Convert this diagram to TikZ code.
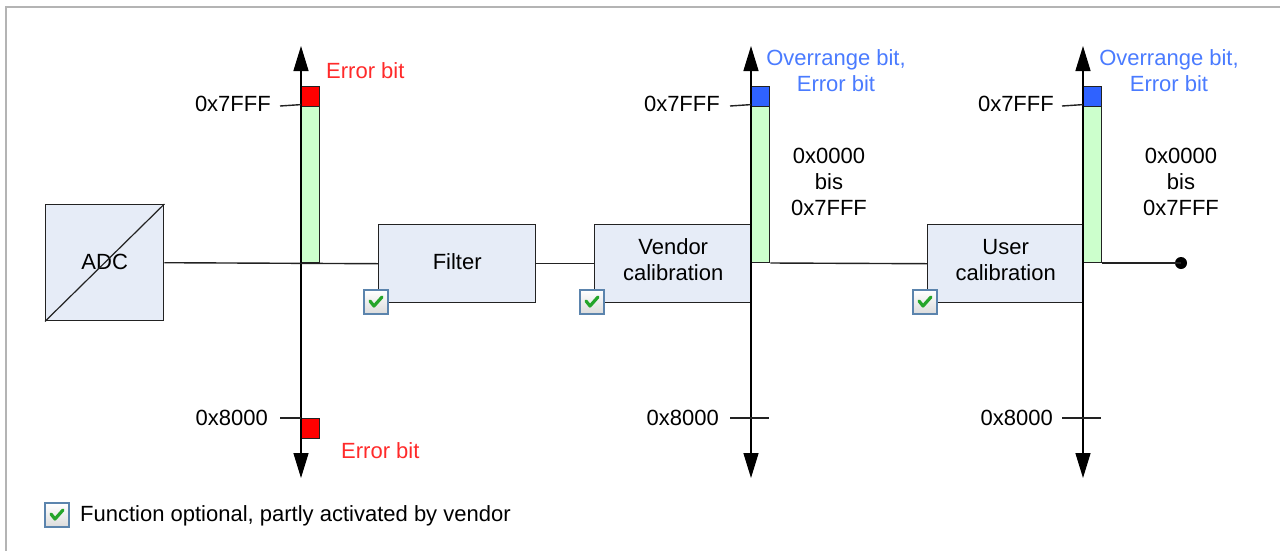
\documentclass[tikz,border=0pt]{standalone}
\usepackage{fontspec}
\setmainfont{Liberation Sans}
\usetikzlibrary{arrows.meta}
\definecolor{boxfill}{HTML}{E6ECF7}
\definecolor{barfill}{HTML}{CCFFCC}
\definecolor{errred}{HTML}{FF0000}
\definecolor{ovblue}{HTML}{2F62FF}
\definecolor{txtred}{HTML}{FF2a2a}
\definecolor{txtblue}{HTML}{4A7BFF}
\definecolor{framegray}{HTML}{B4B4B4}
\definecolor{chkborder}{HTML}{5B84AD}
\definecolor{chkgreen}{HTML}{25A52A}
\definecolor{linegray}{HTML}{222222}
\tikzset{
  txt/.style={font=\fontsize{22}{26}\selectfont, inner sep=0pt, align=center},
  block/.style={draw=linegray, line width=1.4pt, fill=boxfill, inner sep=0pt, anchor=north west, txt},
  bar/.style={draw=linegray, line width=1.4pt, fill=barfill, inner sep=0pt, minimum width=18, anchor=south west},
  errbox/.style={draw=linegray, line width=1.4pt, fill=errred, inner sep=0pt, minimum width=18, minimum height=20, anchor=north west},
  ovbox/.style={draw=linegray, line width=1.4pt, fill=ovblue, inner sep=0pt, minimum width=18, minimum height=20, anchor=north west},
  wire/.style={draw=linegray, line width=1.4pt},
  axis/.style={draw=black, line width=1.4pt, {Triangle[length=25pt,width=15pt]}-{Triangle[length=25pt,width=15pt]}},
  chk/.style={draw=chkborder, line width=1.4pt, top color=white, bottom color=black!14, minimum size=24, inner sep=0pt},
  checkmark/.style={draw=chkgreen, line width=3.2pt, line cap=round, line join=round},
}
\newcommand{\chkmark}[1]{\draw[checkmark] ([shift={(-6,-1)}]#1.center) -- ([shift={(-2,4)}]#1.center) -- ([shift={(6,-5)}]#1.center);}
\begin{document}
\begin{tikzpicture}[x=1pt,y=-1pt]
\useasboundingbox (0,0) rectangle (1280,550);
% frame
\draw[framegray, line width=2pt] (1285,7) -- (6,7) -- (6,556);

% blocks
\node[block, minimum width=118, minimum height=116] (adc) at (45,204) {};
\node[txt] (adct) at ([yshift=1pt]adc.center) {ADC};
\draw[linegray, line width=1.2pt] (adc.south west) -- (adc.north east);
\node[block, minimum width=157, minimum height=78] (filt) at (378,224) {};
\node[txt] (filtt) at ([yshift=2pt]filt.center) {Filter};
\node[block, minimum width=157, minimum height=78] (vend) at (594,224) {};
\node[txt] (vendt) at ([yshift=4pt]vend.center) {Vendor\\calibration};
\node[block, minimum width=156, minimum height=78] (user) at (927,224) {};
\node[txt] (usert) at ([yshift=4pt]user.center) {User\\calibration};

% axes
\coordinate (a1t) at (301,46); \coordinate (a1b) at (301,478);
\coordinate (a2t) at (751,46); \coordinate (a2b) at (751,478);
\coordinate (a3t) at (1083,46); \coordinate (a3b) at (1083,478);

% bars
\node[bar, minimum height=157] (bar1) at (301,263) {};
\node[errbox] (e1t) at (301,86) {};
\node[errbox] (e1b) at (301,418) {};
\node[bar, minimum height=157] (bar2) at (751,263) {};
\node[ovbox] (o2) at (751,86) {};
\node[bar, minimum height=157] (bar3) at (1083,263) {};
\node[ovbox] (o3) at (1083,86) {};

\draw[axis] (a1t) -- (a1b);
\draw[axis] (a2t) -- (a2b);
\draw[axis] (a3t) -- (a3b);

% wires
\node[circle, fill=black, inner sep=0pt, minimum size=12] (dot) at (1181,263) {};
\draw[wire] (adc.east) -- (filt.west);
\draw[wire] (filt.east) -- (vend.west);
\draw[wire] (bar2.south east) -- (user.west);
\draw[wire] (bar3.south east) -- (dot.center);

% ticks
\coordinate (t1a) at (280,106); \coordinate (t1b) at (280,418);
\coordinate (t2a) at (730,106); \coordinate (t2b) at (730,418); \coordinate (t2c) at (769,418);
\coordinate (t3a) at (1062,106); \coordinate (t3b) at (1062,418); \coordinate (t3c) at (1101,418);
\draw[wire] (t1a) -- (bar1.north west);
\draw[wire] (t1b) -- (e1b.north west);
\draw[wire] (t2a) -- (bar2.north west);
\draw[wire] (t2b) -- (t2c);
\draw[wire] (t3a) -- (bar3.north west);
\draw[wire] (t3b) -- (t3c);

% labels
\node[txt, anchor=east] (l1a) at (271,104) {0x7FFF};
\node[txt, anchor=east] (l1b) at (268,418) {0x8000};
\node[txt, anchor=east] (l2a) at (720,104) {0x7FFF};
\node[txt, anchor=east] (l2b) at (719,418) {0x8000};
\node[txt, anchor=east] (l3a) at (1054,104) {0x7FFF};
\node[txt, anchor=east] (l3b) at (1053,418) {0x8000};

\node[txt, anchor=west, text=txtred] (err1) at (326,71) {Error bit};
\node[txt, anchor=west, text=txtred] (err2) at (341,451) {Error bit};
\node[txt, text=txtblue] (ov2) at (836,71) {Overrange bit,\\Error bit};
\node[txt, text=txtblue] (ov3) at (1169,71) {Overrange bit,\\Error bit};
\node[txt] (r2) at (829,182) {0x0000\\bis\\0x7FFF};
\node[txt] (r3) at (1181,182) {0x0000\\bis\\0x7FFF};

% checkboxes
\node[chk] (c1) at (376,302) {}; \chkmark{c1}
\node[chk] (c2) at (592,302) {}; \chkmark{c2}
\node[chk] (c3) at (925,302) {}; \chkmark{c3}
\node[chk] (c4) at (57,515) {}; \chkmark{c4}
\node[txt, anchor=west] (leg) at (80,516) {Function optional, partly activated by vendor};
\end{tikzpicture}
\end{document}
